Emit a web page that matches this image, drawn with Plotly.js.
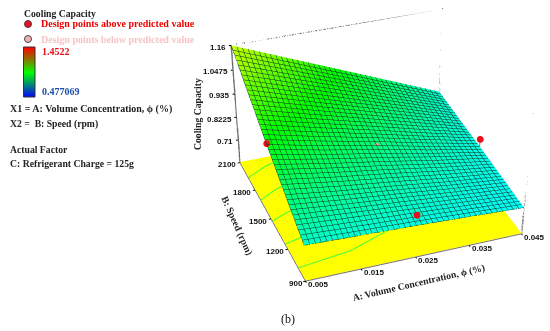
<!DOCTYPE html>
<html><head><meta charset="utf-8">
<script src="https://cdn.plot.ly/plotly-3.0.1.min.js"></script>
<style>html,body{margin:0;padding:0;background:#fff;width:550px;height:331px;overflow:hidden}
#wrap{position:absolute;left:0;top:0;width:550px;height:331px;overflow:hidden}
#p{position:absolute}</style></head><body><div id="wrap"><div id="p"></div></div>
<script>
const conc=[0.005,0.015,0.025,0.035,0.045];
const speed=[900,1200,1500,1800,2100];
const capacity=[
 [0.770,0.760,0.750,0.738,0.725],
 [0.860,0.825,0.795,0.762,0.735],
 [0.955,0.900,0.850,0.795,0.745],
 [1.055,0.980,0.905,0.830,0.752],
 [1.160,1.060,0.960,0.860,0.760]];
const zFloor=0.5975, zTop=1.16;
const zTicks=[0.71,0.8225,0.935,1.0475,1.16];
const zTickText=['0.71','0.8225','0.935','1.0475','1.16'];
const ptsAboveA=[0.005,0.045,0.025], ptsAboveB=[1500,1500,900], ptsAboveZ=[0.96,0.78,0.80], stemEndZ=[0.95,0.745,0.76];
const ptsBelowA=[0.025], ptsBelowB=[1500], ptsBelowZ=[0.85];
const contourA=[[0.005,0.015,0.023,0.03],[0.005,0.008,0.012],[0.005,0.0084,0.012],[0.005,0.0087,0.012],[0.005,0.009,0.012]];
const contourB=[[1014,1064,1168,1300],[1241,1268,1290],[1469,1523,1560],[1686,1759,1800],[1924,2003,2040]];
const barLevels=[0,0.25,0.5,0.75,1];

const W=800,H=1160,oL=-33,oT=-72;
const el=document.getElementById('p');
el.style.left=oL+'px';el.style.top=oT+'px';el.style.width=W+'px';el.style.height=H+'px';
const px=x=>(x-oL)/W, py=y=>1-(y-oT)/H;
const serif='"Liberation Serif",serif';
const sans='"Liberation Sans",Arial,sans-serif';
const matte={ambient:1,diffuse:0,specular:0,roughness:1,fresnel:0};
const traces=[];
traces.push({type:'surface',x:conc,y:speed,z:speed.map(()=>conc.map(()=>zFloor)),
 surfacecolor:speed.map(()=>conc.map(()=>0)),colorscale:[[0,'#ffff00'],[1,'#ffff00']],cmin:0,cmax:1,showscale:false,lighting:matte,hoverinfo:'skip',contours:{x:{highlight:false},y:{highlight:false},z:{highlight:false}}});
traces.push({type:'surface',x:conc,y:speed,z:capacity,cmin:0.477069,cmax:1.4522,showscale:false,lighting:matte,
 colorscale:[[0,'#0000ff'],[0.25,'#00ffff'],[0.5,'#00ff00'],[0.75,'#ffff00'],[1,'#ff0000']],hoverinfo:'skip',
 contours:{x:{show:true,start:0.005,end:0.045,size:0.001,color:'#103020',width:1,highlight:false},
 y:{show:true,start:900,end:2100,size:30,color:'#103020',width:1,highlight:false},z:{highlight:false}}});
contourA.forEach((a,i)=>traces.push({type:'scatter3d',mode:'lines',x:a,y:contourB[i],z:a.map(()=>zFloor+0.002),line:{color:'#40ff40',width:2},hoverinfo:'skip',showlegend:false}));
const boxA=[0.005,0.005,0.045,0.045,0.045,0.045,0.045,0.045], boxB=[2100,2100,2100,2100,2100,900,900,900], boxZ=[zFloor,zTop,zTop,zFloor,zTop,zTop,zFloor,zTop];
traces.push({type:'scatter3d',mode:'lines',x:boxA,y:boxB,z:boxZ,line:{color:'#555555',width:3},hoverinfo:'skip',showlegend:false});
ptsAboveA.forEach((a,i)=>traces.push({type:'scatter3d',mode:'lines',x:[a,a],y:[ptsAboveB[i],ptsAboveB[i]],z:[ptsAboveZ[i],stemEndZ[i]],line:{color:'#505050',width:1.5},hoverinfo:'skip',showlegend:false}));
traces.push({type:'scatter3d',mode:'markers',x:ptsAboveA,y:ptsAboveB,z:ptsAboveZ,marker:{size:4,color:'#e8101c'},hoverinfo:'skip',showlegend:false});
traces.push({type:'scatter3d',mode:'markers',x:ptsBelowA,y:ptsBelowB,z:ptsBelowZ,marker:{size:3,color:'#f090a8'},hoverinfo:'skip',showlegend:false});
traces.push({type:'heatmap',x:[0,1],y:barLevels,z:barLevels.map(v=>[v,v]),zmin:0,zmax:1,zsmooth:'best',showscale:false,xaxis:'x',yaxis:'y',hoverinfo:'skip',
 colorscale:[[0,'#0000ff'],[0.5,'#00ff00'],[1,'#ff0000']]});
const ax=(tv)=>({title:{text:''},tickmode:'array',tickvals:tv,showticklabels:false,showgrid:false,zeroline:false,showbackground:false,
 showline:true,linecolor:'#707070',linewidth:2,ticks:'outside',ticklen:2,tickcolor:'#000',tickwidth:2,showspikes:false});
const tickFont={family:sans,size:8,color:'#111',weight:'bold'};
const sa=(x,y,z,t,xs,ys,o={})=>Object.assign({x,y,z,text:t,showarrow:false,xshift:xs,yshift:ys,font:tickFont},o);
const sceneAnn=[
 ...conc.map(a=>sa(a,900,zFloor,String(a),13,-4)),
 ...speed.map(b=>sa(0.005,b,zFloor,String(b),b===900?-10:-13,-3)),
 ...zTicks.map((v,i)=>sa(0.005,2100,v,zTickText[i],-3,-2,{xanchor:'right'}))];
const ann=(x,y,t,o={})=>Object.assign({xref:'paper',yref:'paper',x:px(x-(o.xanchor==='center'?0:2)),y:py(y),text:t,showarrow:false,xanchor:'left',yanchor:'middle',font:{family:serif,size:9.7,color:'#222',weight:'bold'}},o);
const circ=(cx,cy,r,c)=>({type:'circle',xref:'paper',yref:'paper',x0:px(cx-r),x1:px(cx+r),y0:py(cy+r),y1:py(cy-r),fillcolor:c,line:{color:'#444',width:1}});
const layout={width:W,height:H,margin:{l:0,r:0,t:0,b:0},paper_bgcolor:'#fff',showlegend:false,
 scene:{domain:{x:[0,1],y:[0,1]},aspectmode:'manual',aspectratio:{x:1,y:0.9755,z:0.5884},
  camera:{eye:{x:-1.9055,y:-5.0880,z:3.2912},center:{x:-0.4385,y:-1.0758,z:-1.1234},up:{x:0,y:0,z:1},projection:{type:'perspective'}},
  xaxis:Object.assign(ax(conc),{range:[0.005,0.045]}),
  yaxis:Object.assign(ax(speed),{range:[900,2100]}),
  zaxis:Object.assign(ax(zTicks),{range:[zFloor-0.003,zTop]}),
  annotations:sceneAnn},
 xaxis:{domain:[px(23.5),px(35)],visible:false,range:[0,1],fixedrange:true},
 yaxis:{domain:[py(97),py(47)],visible:false,range:[0,1],fixedrange:true},
 shapes:[circ(28,24,3.5,'#e8101c'),circ(28,39,3.5,'#f4b0b4'),
  {type:'rect',xref:'paper',yref:'paper',x0:px(23.5),x1:px(35),y0:py(97),y1:py(47),line:{color:'#333',width:1}}],
 annotations:[ann(24,14,'Cooling Capacity'),
  ann(41,24,'Design points above predicted value',{font:{family:serif,size:10,color:'#f00000',weight:'bold'}}),
  ann(41,39,'Design points below predicted value',{font:{family:serif,size:10,color:'#f8c4c8',weight:'bold'}}),
  ann(42,52,'1.4522',{font:{family:serif,size:10,color:'#e8101c',weight:'bold'}}),
  ann(42,92,'0.477069',{font:{family:serif,size:10,color:'#1f4fa8',weight:'bold'}}),
  ann(10,109,'X1 = A: Volume Concentration, ϕ (%)',{font:{family:serif,size:10,color:'#222',weight:'bold'}}),
  ann(10,124,'X2 =  B: Speed (rpm)'),
  ann(10,149,'Actual Factor'),
  ann(10,164,'C: Refrigerant Charge = 125g'),
  ann(197,114,'Cooling Capacity',{xanchor:'center',textangle:-90}),
  ann(237,226,'B: Speed (rpm)',{xanchor:'center',textangle:66}),
  ann(418,283,'A: Volume Concentration, ϕ (%)',{xanchor:'center',textangle:-13}),
  ann(288,319,'(b)',{xanchor:'center',font:{family:serif,size:12,color:'#111'}})]};
Plotly.newPlot(el,traces,layout,{displayModeBar:false});
</script></body></html>
